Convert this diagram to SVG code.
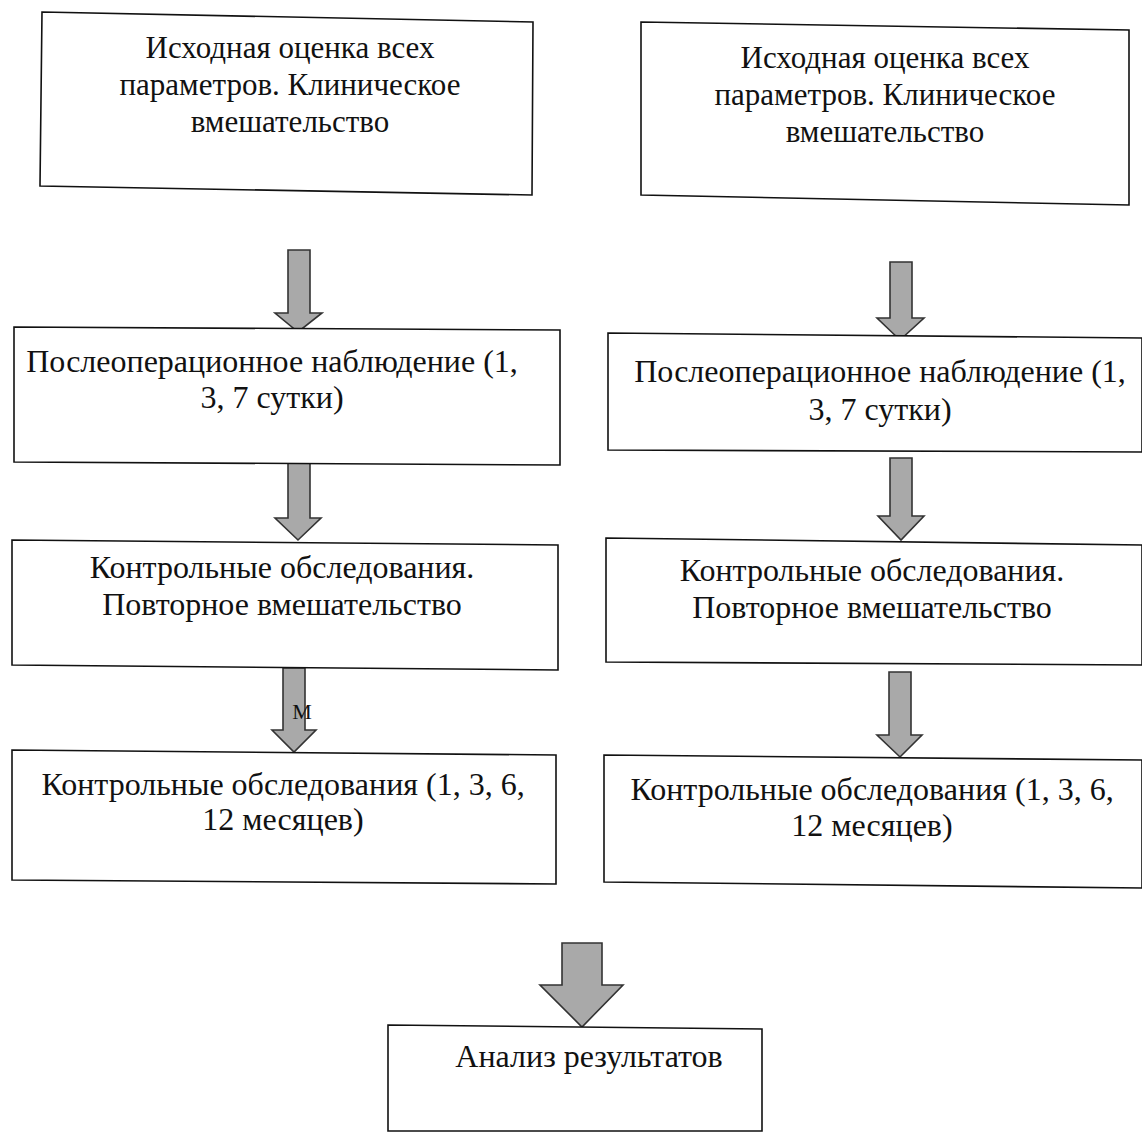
<svg xmlns="http://www.w3.org/2000/svg" width="1142" height="1134" viewBox="0 0 1142 1134">
<style>
.box{fill:#fff;stroke:#111;stroke-width:1.6}
.arr{fill:#a9a9a9;stroke:#333;stroke-width:1.6;stroke-linejoin:miter}
text{font-family:"Liberation Serif","Times New Roman",serif;font-size:32px;fill:#111;text-anchor:middle}
.top{font-size:31px}
</style>
<rect width="1142" height="1134" fill="#fff"/>
<g id="connectors">
<polygon class="arr" points="288,250 310,250 310,313 322,313 298,332 275,313 288,313"/>
<polygon class="arr" points="890,262 912,262 912,318 924,318 900,340 877,318 890,318"/>
<polygon class="arr" points="288,458 310,458 310,518 321,518 298,540 275,518 288,518"/>
<polygon class="arr" points="890,458 912,458 912,516 924,516 901,540 878,516 890,516"/>
<polygon class="arr" points="283,668 305,668 305,730 316,730 294,752 272,730 283,730"/>
<polygon class="arr" points="889,672 911,672 911,735 922,735 900,757 877,735 889,735"/>
<polygon class="arr" points="562,943 602,943 602,985 623,985 582,1027 540,985 562,985"/>
<text x="302" y="719" style="font-size:22px">М</text>
</g>
<g id="n1">
<polygon class="box" points="42,12 533,22 532,195 40,186"/>
<text class="top" x="290" y="58">Исходная оценка всех</text>
<text class="top" x="290" y="95">параметров. Клиническое</text>
<text class="top" x="290" y="132">вмешательство</text>
</g>
<g id="n2">
<polygon class="box" points="641,22 1129,30 1129,205 641,195"/>
<text class="top" x="885" y="68">Исходная оценка всех</text>
<text class="top" x="885" y="105">параметров. Клиническое</text>
<text class="top" x="885" y="142">вмешательство</text>
</g>
<g id="n3">
<polygon class="box" points="14,327 560,330 560,465 14,462"/>
<text x="272" y="372">Послеоперационное наблюдение (1,</text>
<text x="272" y="408">3, 7 сутки)</text>
</g>
<g id="n4">
<polygon class="box" points="608,333 1142,338 1142,452 608,450"/>
<text x="880" y="382">Послеоперационное наблюдение (1,</text>
<text x="880" y="420">3, 7 сутки)</text>
</g>
<g id="n5">
<polygon class="box" points="12,540 558,545 558,670 12,665"/>
<text x="282" y="578">Контрольные обследования.</text>
<text x="282" y="615">Повторное вмешательство</text>
</g>
<g id="n6">
<polygon class="box" points="606,538 1142,545 1142,665 606,662"/>
<text x="872" y="581">Контрольные обследования.</text>
<text x="872" y="618">Повторное вмешательство</text>
</g>
<g id="n7">
<polygon class="box" points="12,750 556,755 556,884 12,880"/>
<text x="283" y="795">Контрольные обследования (1, 3, 6,</text>
<text x="283" y="830">12 месяцев)</text>
</g>
<g id="n8">
<polygon class="box" points="604,755 1142,760 1142,888 604,882"/>
<text x="872" y="800">Контрольные обследования (1, 3, 6,</text>
<text x="872" y="836">12 месяцев)</text>
</g>
<g id="n9">
<polygon class="box" points="388,1025 762,1029 762,1131 388,1131"/>
<text x="589" y="1067">Анализ результатов</text>
</g>
</svg>
